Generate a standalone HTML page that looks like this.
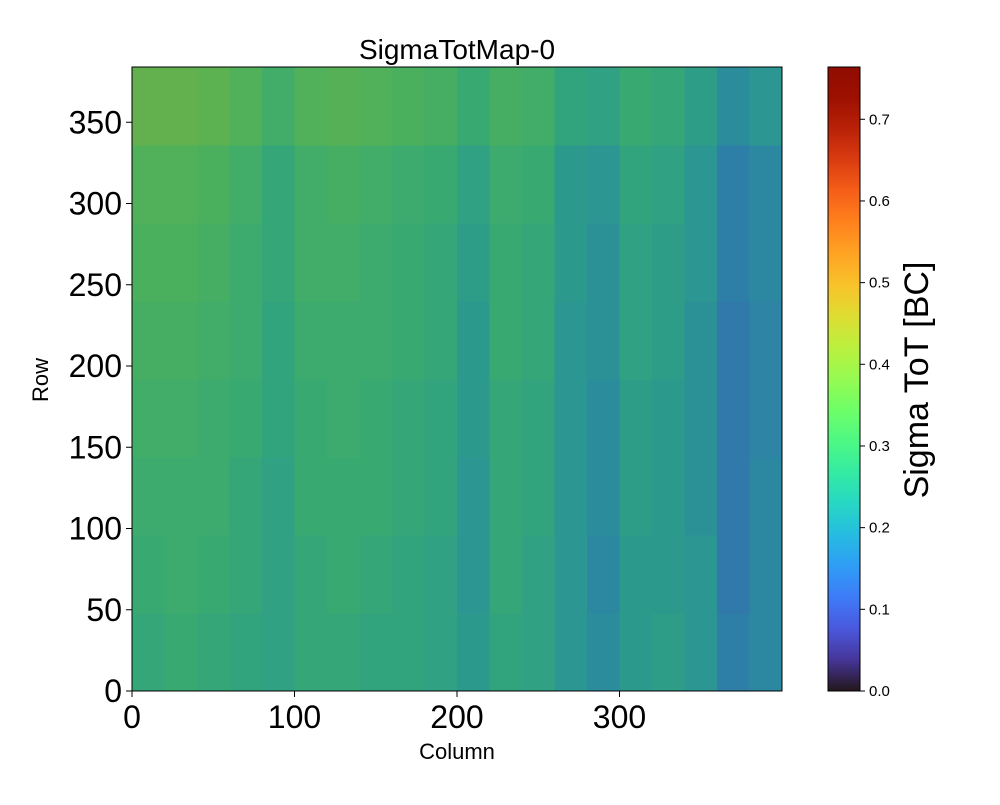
<!DOCTYPE html>
<html><head><meta charset="utf-8">
<style>
body{margin:0;background:#fff;font-family:"Liberation Sans",sans-serif;}
svg text{font-family:"Liberation Sans",sans-serif;fill:#000;}
</style></head>
<body>
<svg id="chart" width="1000" height="800">
<text x="457" y="59" font-size="28" text-anchor="middle">SigmaTotMap-0</text>
<g id="cells"></g>
<rect x="132" y="67" width="650" height="624" fill="none" stroke="#000" stroke-width="1"/>
<g id="xt"></g>
<g id="yt"></g>
<text x="457" y="759" font-size="22" text-anchor="middle">Column</text>
<text x="48" y="380" font-size="22" text-anchor="middle" transform="rotate(-90 48 380)">Row</text>
<defs><linearGradient id="cg" x1="0" y1="1" x2="0" y2="0"></linearGradient></defs>
<rect x="828" y="67" width="32" height="624" fill="url(#cg)" stroke="#000" stroke-width="1"/>
<g id="ct"></g>
<text x="928" y="380" font-size="34" text-anchor="middle" transform="rotate(-90 928 380)">Sigma ToT [BC]</text>
</svg>
<script>
const xTicks=[0,100,200,300];
const yTicks=[0,50,100,150,200,250,300,350];
const cTicks=[0.0,0.1,0.2,0.3,0.4,0.5,0.6,0.7];
// mean sigma per block: 8 row-bands (bottom->top, 48 rows each) x 20 column-bands (20 cols each)
const cellValues=[
[0.27,0.28,0.27,0.26,0.25,0.27,0.27,0.26,0.26,0.25,0.23,0.26,0.25,0.22,0.20,0.23,0.24,0.22,0.17,0.19],
[0.28,0.29,0.28,0.27,0.25,0.27,0.28,0.27,0.26,0.25,0.22,0.27,0.25,0.22,0.19,0.23,0.23,0.22,0.16,0.19],
[0.29,0.29,0.29,0.27,0.25,0.28,0.28,0.28,0.27,0.26,0.22,0.27,0.26,0.22,0.20,0.24,0.23,0.21,0.16,0.19],
[0.30,0.30,0.29,0.28,0.26,0.28,0.29,0.28,0.27,0.26,0.23,0.27,0.26,0.22,0.20,0.24,0.23,0.21,0.16,0.18],
[0.31,0.31,0.30,0.29,0.26,0.29,0.29,0.29,0.28,0.27,0.23,0.28,0.27,0.22,0.21,0.25,0.24,0.21,0.16,0.18],
[0.32,0.32,0.31,0.29,0.27,0.30,0.30,0.29,0.28,0.27,0.24,0.28,0.27,0.23,0.21,0.25,0.24,0.22,0.17,0.19],
[0.33,0.33,0.32,0.30,0.27,0.30,0.31,0.30,0.29,0.28,0.25,0.29,0.28,0.23,0.22,0.26,0.25,0.22,0.17,0.19],
[0.36,0.36,0.35,0.33,0.30,0.33,0.34,0.33,0.32,0.31,0.28,0.31,0.30,0.26,0.25,0.28,0.27,0.24,0.20,0.22]
];
const NS="http://www.w3.org/2000/svg";
const X0=132,X1=782,Y0=691,Y1=67,VMAX=0.764;
const xs=v=>X0+v/400*(X1-X0);
const ys=v=>Y0-v/384*(Y0-Y1);
const cs=v=>Y0-v/VMAX*(Y0-Y1);
function turbo(t){t=Math.max(0,Math.min(1,t));
const r=34.61+t*(1172.33-t*(10793.56-t*(33300.12-t*(38394.49-t*14825.05))));
const g=23.31+t*(557.33+t*(1225.33-t*(3574.96-t*(1073.77+t*707.56))));
const b=27.2+t*(3211.1-t*(15327.97-t*(27814-t*(22569.18-t*6838.66))));
return [r,g,b].map(c=>Math.max(0,Math.min(255,Math.round(c))));}
function mk(tag,attrs,parent){const e=document.createElementNS(NS,tag);for(const k in attrs)e.setAttribute(k,attrs[k]);parent.appendChild(e);return e;}
const cells=document.getElementById('cells');
cellValues.forEach((row,ri)=>row.forEach((v,ci)=>{
  const c=turbo(v/VMAX).map(x=>Math.round(x*0.62+20));
  const r=mk('rect',{x:xs(ci*20),y:ys((ri+1)*48),width:xs(20)-xs(0)+0.5,height:ys(0)-ys(48)+0.5,fill:`rgb(${c})`},cells);
  
  
}));
const xt=document.getElementById('xt');
xTicks.forEach(t=>{
  const l=mk('line',{x1:xs(t),x2:xs(t),y1:Y0,y2:Y0+6,stroke:'#000'},xt);
  
  const tx=mk('text',{x:xs(t),y:Y0+37,'font-size':32,'text-anchor':'middle'},xt);tx.textContent=t;
  
});
const yt=document.getElementById('yt');
yTicks.forEach(t=>{
  const l=mk('line',{x1:X0-6,x2:X0,y1:ys(t),y2:ys(t),stroke:'#000'},yt);
  
  const tx=mk('text',{x:X0-10,y:ys(t)+11,'font-size':32,'text-anchor':'end'},yt);tx.textContent=t;
  
});
const g=document.getElementById('cg');
for(let i=0;i<=20;i++){mk('stop',{offset:(i/20),'stop-color':`rgb(${turbo(i/20)})`},g);}
const ct=document.getElementById('ct');
cTicks.forEach(t=>{
  const l=mk('line',{x1:860,x2:865,y1:cs(t),y2:cs(t),stroke:'#000'},ct);
  
  const tx=mk('text',{x:869,y:cs(t)+5,'font-size':15},ct);tx.textContent=t.toFixed(1);
  
});
</script>
</body></html>
